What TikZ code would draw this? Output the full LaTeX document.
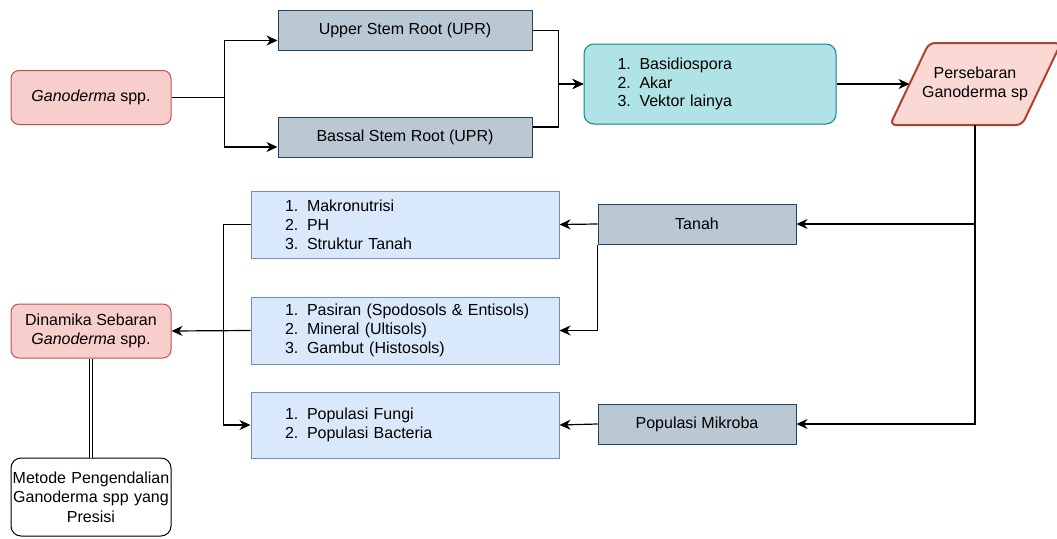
\documentclass[tikz,border=0pt]{standalone}
\usepackage{fontspec}
\setmainfont{Liberation Sans}
\usepackage{xcolor}
\usepackage{tikz}
\usetikzlibrary{arrows.meta,calc,positioning}
\definecolor{PinkFill}{HTML}{F8CECC}
\definecolor{PinkLine}{HTML}{B85450}
\definecolor{SlateFill}{HTML}{BAC8D3}
\definecolor{SlateLine}{HTML}{23445D}
\definecolor{TealFill}{HTML}{B0E3E6}
\definecolor{TealLine}{HTML}{0E8088}
\definecolor{ListFill}{HTML}{DAE8FC}
\definecolor{ListLine}{HTML}{6C8EBF}
\definecolor{ParaFill}{HTML}{FAD9D5}
\definecolor{ParaLine}{HTML}{AE4132}
\newcommand\itm[2]{\mbox{\makebox[22pt][l]{#1}#2}}

\begin{document}
\begin{tikzpicture}[
  x=1pt,
  y=-1pt,
  box/.style={inner sep=0pt,line width=1pt,font=\fontsize{16}{19}\selectfont,align=center},
  pinkbox/.style={box,fill=PinkFill,draw=PinkLine,rounded corners=8pt,minimum width=160pt,minimum height=54pt},
  slatebox/.style={box,fill=SlateFill,draw=SlateLine,minimum height=40pt},
  tealbox/.style={box,fill=TealFill,draw=TealLine,rounded corners=10pt,minimum width=252pt,minimum height=80pt,text width=185pt,align=left,font=\fontsize{16}{18.5}\selectfont},
  listbox/.style={box,fill=ListFill,draw=ListLine,minimum width=308pt,minimum height=67pt,text width=240pt,align=left},
  plainbox/.style={box,fill=white,draw=black,rounded corners=10pt,minimum width=160pt,minimum height=78pt,text width=160pt,font=\fontsize{16}{19.5}\selectfont},
  link/.style={-{Stealth[length=11pt,width=10pt,inset=3.5pt]},line width=1.2pt,draw=black}
]
  \useasboundingbox (0,0) rectangle (1057,538);

  % Top row
  \node[pinkbox] (gano) at (91,97.5) {\textit{Ganoderma} spp.};
  \node[slatebox,minimum width=254pt] (upr) at (405,30.5) {Upper Stem Root (UPR)};
  \node[slatebox,minimum width=254pt] (bsr) at (405,137) {Bassal Stem Root (UPR)};
  \node[tealbox] (bas) at (710,84) {\itm{1.}{Basidiospora}\\\itm{2.}{Akar}\\\itm{3.}{Vektor lainya}};
  \draw[fill=ParaFill,draw=ParaLine,line width=2pt,rounded corners=6pt]
    (890,125) -- (929,43) -- (1061,43) -- (1022,125) -- cycle;
  \node[box] (pers) at (975,84) {Persebaran\\Ganoderma sp};
  \coordinate (pers-in) at (909.5,84);
  \coordinate (pers-out) at (975,125);

  \draw[link] (gano.east) -- ++(53,0) |- ([yshift=-10pt]upr.west);
  \draw[link] (gano.east) -- ++(53,0) |- ([yshift=-10pt]bsr.west);
  \draw[link] (upr.east) -- ++(26,0) |- (bas.west);
  \draw[link] ([yshift=10pt]bsr.east) -- ++(26,0) |- (bas.west);
  \draw[link] (bas.east) -- (pers-in);

  % Lower scene
  \node[slatebox,minimum width=198pt] (tanah) at (697,224) {Tanah};
  \node[slatebox,minimum width=198pt] (mik) at (697,424) {Populasi Mikroba};
  \node[listbox] (mak) at (405,224.5) {\itm{1.}{Makronutrisi}\\\itm{2.}{PH}\\\itm{3.}{Struktur Tanah}};
  \node[listbox] (pas) at (405,330.5) {\itm{1.}{Pasiran (Spodosols \& Entisols)}\\\itm{2.}{Mineral (Ultisols)}\\\itm{3.}{Gambut (Histosols)}};
  \node[listbox,minimum height=66pt] (pop) at (405,425) {\itm{1.}{Populasi Fungi}\\\itm{2.}{Populasi Bacteria}};
  \node[pinkbox] (din) at (91,331) {Dinamika Sebaran\\\textit{Ganoderma} spp.};
  \node[plainbox] (met) at (91,497) {Metode Pengendalian\\Ganoderma spp yang\\Presisi};

  \draw[link] (pers-out) |- (tanah.east);
  \draw[link] (pers-out) |- (mik.east);
  \draw[link] (tanah.west) -- (mak.east);
  \draw[link] (tanah.south west) |- (pas.east);
  \draw[link] (mik.west) -- (pop.east);
  \draw[link] (mak.west) -- ++(-27,0) |- (pop.west);
  \draw[link] (pas.west) -- (din.east);
  \draw[double=white,double distance=2.5pt,line width=0.9pt] (din.south) -- (met.north);
\end{tikzpicture}
\end{document}
